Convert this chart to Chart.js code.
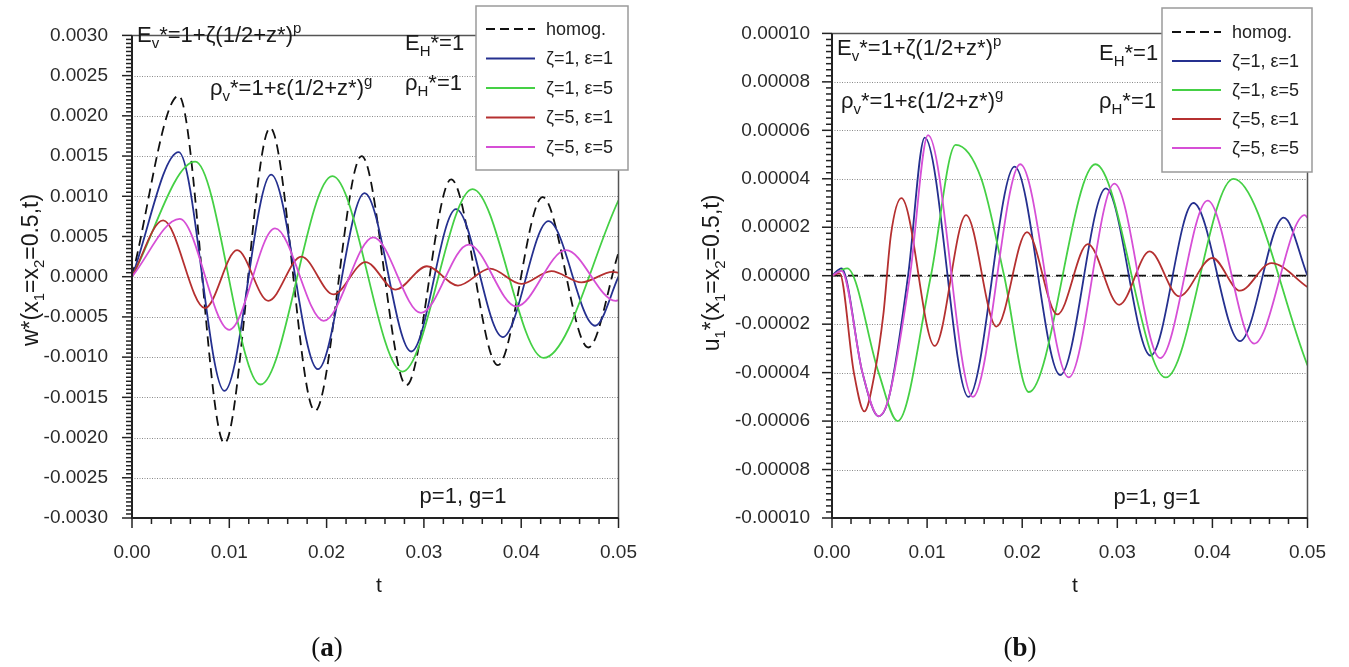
<!DOCTYPE html>
<html>
<head>
<meta charset="utf-8">
<title>w* and u1* time histories</title>
<script src="https://cdn.jsdelivr.net/npm/chart.js@4.4.1/dist/chart.umd.min.js"></script>
<style>
  body { margin: 0; background: #fff; width: 1349px; height: 667px; overflow: hidden; position: relative; }
  .panel { position: absolute; top: 0; height: 667px; }
  .cap { position: absolute; font-family: "Liberation Serif", "DejaVu Serif", serif; font-size: 27px; color: #111; transform: translateX(-50%); }
</style>
</head>
<body>
<div class="panel" style="left:0;width:660px"><canvas id="chartA"></canvas></div>
<div class="panel" style="left:680px;width:669px"><canvas id="chartB"></canvas></div>
<div class="cap" style="left:327px;top:632px">(<b>a</b>)</div>
<div class="cap" style="left:1020px;top:632px">(<b>b</b>)</div>
<script>
// legend labels, same for both panels
const SERIES_LABELS = ['homog.', 'ζ=1, ε=1', 'ζ=1, ε=5', 'ζ=5, ε=1', 'ζ=5, ε=5'];
const SERIES_COLORS = ['#111111', '#25308f', '#45d045', '#b53030', '#d64fd6'];

// (a) transverse displacement w*(x1=x2=0.5,t) -- peaks/valleys
const wHomogT = [0, 0.0048, 0.0095, 0.0142, 0.0188, 0.0236, 0.0282, 0.0328, 0.0376, 0.0422, 0.0469, 0.05];
const wHomogV = [0, 0.00225, -0.00207, 0.00185, -0.00167, 0.0015, -0.00135, 0.00121, -0.0011, 0.00099, -0.00088, 0.0003];
const wZ1E1T = [0, 0.0048, 0.0095, 0.0143, 0.0191, 0.0239, 0.0287, 0.0333, 0.0381, 0.0428, 0.0476, 0.05];
const wZ1E1V = [0, 0.00155, -0.00142, 0.00127, -0.00115, 0.00104, -0.00093, 0.00084, -0.00075, 0.00069, -0.00061, 0.0];
const wZ1E5T = [0, 0.0065, 0.0132, 0.0206, 0.0278, 0.035, 0.0423, 0.05];
const wZ1E5V = [0, 0.00143, -0.00134, 0.00125, -0.00118, 0.00109, -0.00101, 0.00095];
const wZ5E1T = [0, 0.0032, 0.0075, 0.0108, 0.014, 0.0174, 0.0207, 0.024, 0.0271, 0.0303, 0.0335, 0.0368, 0.04, 0.0431, 0.0462, 0.0494, 0.05];
const wZ5E1V = [0, 0.0007, -0.00039, 0.00033, -0.0003, 0.00025, -0.00022, 0.00018, -0.00016, 0.00013, -0.00011, 0.0001, -0.00009, 0.00007, -0.00007, 0.00006, 0.00005];
const wZ5E5T = [0, 0.0049, 0.01, 0.0147, 0.0197, 0.0248, 0.0297, 0.0346, 0.0395, 0.0446, 0.0497, 0.05];
const wZ5E5V = [0, 0.00072, -0.00066, 0.0006, -0.00055, 0.00049, -0.00045, 0.0004, -0.00037, 0.00033, -0.0003, -0.00029];

// (b) in-plane displacement u1*(x1=x2=0.5,t)
const uHomogT = [0, 0.05];
const uHomogV = [0, 0];
const uZ1E1T = [0, 0.001, 0.0032, 0.0049, 0.006, 0.008, 0.00975, 0.01435, 0.0192, 0.024, 0.0288, 0.0335, 0.038, 0.0429, 0.0475, 0.05];
const uZ1E1V = [0, 0.000003, -0.00004, -0.000058, -0.00005, 0, 0.000057, -0.00005, 0.000045, -0.000041, 0.000036, -0.000033, 0.00003, -0.000027, 0.000024, 0];
const uZ1E5T = [0, 0.0016, 0.0049, 0.0069, 0.0104, 0.013, 0.0157, 0.0181, 0.0207, 0.0277, 0.0351, 0.0422, 0.05];
const uZ1E5V = [0, 0.000003, -0.00004, -0.00006, 0, 0.000054, 0.00004, 0, -0.000048, 0.000046, -0.000042, 0.00004, -0.000037];
const uZ5E1T = [0, 0.0008, 0.0023, 0.0034, 0.0045, 0.0054, 0.0062, 0.0073, 0.0108, 0.0141, 0.0173, 0.0205, 0.0237, 0.0269, 0.0302, 0.0334, 0.0365, 0.04, 0.0429, 0.0462, 0.05];
const uZ5E1V = [0, 0.000001, -0.00004, -0.000056, -0.00004, -0.000016, 0.000017, 0.000032, -0.000029, 0.000025, -0.000021, 0.000018, -0.000016, 0.000013, -0.000012, 0.00001, -0.0000085, 0.0000073, -0.0000062, 0.0000052, -0.0000047];
const uZ5E5T = [0, 0.001, 0.0032, 0.0049, 0.006, 0.0082, 0.0101, 0.0148, 0.0198, 0.0249, 0.0297, 0.0345, 0.0395, 0.0444, 0.0497, 0.05];
const uZ5E5V = [0, 0.000002, -0.00004, -0.000058, -0.00005, 0, 0.000058, -0.00005, 0.000046, -0.000042, 0.000038, -0.000034, 0.000031, -0.000028, 0.000025, 0.000024];

const FONT = '"Liberation Sans", Arial, sans-serif';

function series(i, t, v) {
  return {
    label: SERIES_LABELS[i],
    data: t.map((x, k) => ({ x: x, y: v[k] })),
    borderColor: SERIES_COLORS[i],
    borderWidth: 1.8,
    borderDash: i === 0 ? [10, 6] : [],
    pointRadius: 0,
    fill: false,
    cubicInterpolationMode: 'monotone',
    order: i === 0 ? 5 : 5 - i
  };
}

// text runs: [text, 0 normal | 1 subscript | 2 superscript]
function richWidth(ctx, parts, size) {
  let w = 0;
  parts.forEach(p => {
    ctx.font = (p[1] ? Math.round(size * 0.66) : size) + 'px ' + FONT;
    w += ctx.measureText(p[0]).width;
  });
  return w;
}
function drawRich(ctx, parts, x, y, size, align) {
  let cx = align === 'center' ? x - richWidth(ctx, parts, size) / 2 : x;
  ctx.textAlign = 'left';
  ctx.textBaseline = 'alphabetic';
  parts.forEach(p => {
    ctx.font = (p[1] ? Math.round(size * 0.66) : size) + 'px ' + FONT;
    const dy = p[1] === 1 ? size * 0.28 : (p[1] === 2 ? -size * 0.42 : 0);
    ctx.fillText(p[0], cx, y + dy);
    cx += ctx.measureText(p[0]).width;
  });
}

// grid, frame, tick marks, annotations and the boxed legend
const decorPlugin = {
  id: 'decor',
  beforeDatasetsDraw(chart, args, opts) {
    const ctx = chart.ctx, a = chart.chartArea, ys = chart.scales.y;
    ctx.save();
    ctx.strokeStyle = '#8a8a8a';
    ctx.lineWidth = 1;
    ctx.setLineDash([1, 1.5]);
    ys.ticks.forEach(t => {
      if (t.value <= ys.min + 1e-12 || t.value >= ys.max - 1e-12) return;
      const py = Math.round(ys.getPixelForValue(t.value)) + 0.5;
      ctx.beginPath();
      ctx.moveTo(a.left, py);
      ctx.lineTo(a.right, py);
      ctx.stroke();
    });
    ctx.restore();
  },
  afterDatasetsDraw(chart, args, opts) {
    const ctx = chart.ctx, a = chart.chartArea, xs = chart.scales.x, ys = chart.scales.y;
    ctx.save();
    // frame
    ctx.strokeStyle = '#555';
    ctx.lineWidth = 1.5;
    ctx.beginPath();
    ctx.moveTo(a.left, a.top);
    ctx.lineTo(a.right, a.top);
    ctx.lineTo(a.right, a.bottom);
    ctx.stroke();
    ctx.strokeStyle = '#222';
    ctx.lineWidth = 2;
    ctx.beginPath();
    ctx.moveTo(a.left, a.top);
    ctx.lineTo(a.left, a.bottom);
    ctx.lineTo(a.right, a.bottom);
    ctx.stroke();
    // tick marks, pointing outwards
    ctx.lineWidth = 1.5;
    const nx = Math.round((xs.max - xs.min) / opts.minorX);
    for (let k = 0; k <= nx; k++) {
      const px = xs.getPixelForValue(xs.min + k * opts.minorX);
      const len = k % opts.perMajorX === 0 ? 10 : 6;
      ctx.beginPath();
      ctx.moveTo(px, a.bottom);
      ctx.lineTo(px, a.bottom + len);
      ctx.stroke();
    }
    const ny = Math.round((ys.max - ys.min) / opts.minorY);
    for (let k = 0; k <= ny; k++) {
      const py = ys.getPixelForValue(ys.min + k * opts.minorY);
      const len = k % opts.perMajorY === 0 ? 10 : 6;
      ctx.beginPath();
      ctx.moveTo(a.left, py);
      ctx.lineTo(a.left - len, py);
      ctx.stroke();
    }
    // annotations
    ctx.fillStyle = '#1a1a1a';
    opts.notes.forEach(n => drawRich(ctx, n.parts, n.x, n.y, n.size, n.align));
    // y axis title, rotated
    ctx.save();
    ctx.translate(opts.yTitle.x, opts.yTitle.y);
    ctx.rotate(-Math.PI / 2);
    drawRich(ctx, opts.yTitle.parts, 0, 0, opts.yTitle.size, 'center');
    ctx.restore();
    // x axis title
    drawRich(ctx, [['t', 0]], opts.xTitle.x, opts.xTitle.y, opts.xTitle.size, 'center');
    // legend box
    const L = opts.legend;
    ctx.fillStyle = '#fff';
    ctx.fillRect(L.left, L.top, L.width, L.height);
    ctx.strokeStyle = '#9a9a9a';
    ctx.lineWidth = 1.5;
    ctx.strokeRect(L.left, L.top, L.width, L.height);
    chart.data.datasets.forEach((ds, i) => {
      const ry = L.top + L.firstRow + i * L.rowGap;
      ctx.strokeStyle = ds.borderColor;
      ctx.lineWidth = 2;
      ctx.setLineDash(ds.borderDash.length ? [9, 5] : []);
      ctx.beginPath();
      ctx.moveTo(L.left + 10, ry);
      ctx.lineTo(L.left + 59, ry);
      ctx.stroke();
      ctx.setLineDash([]);
      ctx.fillStyle = '#222';
      ctx.font = L.size + 'px ' + FONT;
      ctx.textAlign = 'left';
      ctx.textBaseline = 'middle';
      ctx.fillText(ds.label, L.left + 70, ry + 1);
    });
    ctx.restore();
  }
};

function makeChart(id, sets, yMin, yMax, yStep, yDigits, yPadding, area, decor) {
  return new Chart(document.getElementById(id), {
    type: 'line',
    data: { datasets: sets },
    options: {
      responsive: true,
      maintainAspectRatio: false,
      animation: false,
      layout: { autoPadding: false, padding: { top: area.top, right: area.right, left: 0, bottom: 0 } },
      plugins: { legend: { display: false }, tooltip: { enabled: false }, decor: decor },
      scales: {
        x: {
          type: 'linear', min: 0, max: 0.05,
          grid: { display: false, drawTicks: false },
          border: { display: false },
          ticks: { stepSize: 0.01, padding: 23, color: '#2a2a2a', font: { family: FONT, size: 19 },
                   callback: v => v.toFixed(2), maxRotation: 0 },
          afterFit: s => { s.height = area.xHeight; }
        },
        y: {
          type: 'linear', min: yMin, max: yMax,
          grid: { display: false, drawTicks: false },
          border: { display: false },
          ticks: { stepSize: yStep, padding: yPadding, color: '#2a2a2a', font: { family: FONT, size: 19 },
                   callback: v => (Math.abs(v) < 1e-12 ? 0 : v).toFixed(yDigits) },
          afterFit: s => { s.width = area.yWidth; }
        }
      }
    },
    plugins: [decorPlugin]
  });
}

const eRow = [['E', 0], ['v', 1], ['*=1+ζ(1/2+z*)', 0], ['p', 2]];
const rRow = [['ρ', 0], ['v', 1], ['*=1+ε(1/2+z*)', 0], ['g', 2]];
const ehRow = [['E', 0], ['H', 1], ['*=1', 0]];
const rhRow = [['ρ', 0], ['H', 1], ['*=1', 0]];
const pgRow = [['p=1, g=1', 0]];

makeChart('chartA', [
  series(0, wHomogT, wHomogV),
  series(1, wZ1E1T, wZ1E1V),
  series(2, wZ1E5T, wZ1E5V),
  series(3, wZ5E1T, wZ5E1V),
  series(4, wZ5E5T, wZ5E5V)
], -0.003, 0.003, 0.0005, 4, 24, { top: 23, right: 32, xHeight: 149, yWidth: 132 }, {
  minorX: 0.002, perMajorX: 5, minorY: 0.00005, perMajorY: 10,
  notes: [
    { parts: eRow, x: 137, y: 42, size: 22 },
    { parts: ehRow, x: 405, y: 50, size: 22 },
    { parts: rRow, x: 210, y: 95, size: 22 },
    { parts: rhRow, x: 405, y: 90, size: 22 },
    { parts: pgRow, x: 463, y: 503, size: 22, align: 'center' }
  ],
  yTitle: { parts: [['w*(x', 0], ['1', 1], ['=x', 0], ['2', 1], ['=0.5,t)', 0]], x: 38, y: 270, size: 23 },
  xTitle: { x: 379, y: 592, size: 21 },
  legend: { left: 476, top: 6, width: 152, height: 164, firstRow: 23, rowGap: 29.5, size: 18 }
});

makeChart('chartB', [
  series(0, uHomogT, uHomogV),
  series(1, uZ1E1T, uZ1E1V),
  series(2, uZ1E5T, uZ1E5V),
  series(3, uZ5E1T, uZ5E1V),
  series(4, uZ5E5T, uZ5E5V)
], -0.0001, 0.0001, 0.00002, 5, 22, { top: 32, right: 31, xHeight: 149, yWidth: 152 }, {
  minorX: 0.002, perMajorX: 5, minorY: 0.0000025, perMajorY: 8,
  notes: [
    { parts: eRow, x: 157, y: 55, size: 22 },
    { parts: ehRow, x: 419, y: 60, size: 22 },
    { parts: rRow, x: 161, y: 108, size: 22 },
    { parts: rhRow, x: 419, y: 108, size: 22 },
    { parts: pgRow, x: 477, y: 504, size: 22, align: 'center' }
  ],
  yTitle: { parts: [['u', 0], ['1', 1], ['*(x', 0], ['1', 1], ['=x', 0], ['2', 1], ['=0.5,t)', 0]], x: 39, y: 273, size: 23 },
  xTitle: { x: 395, y: 592, size: 21 },
  legend: { left: 482, top: 8, width: 150, height: 164, firstRow: 24, rowGap: 29, size: 18 }
});
</script>
</body>
</html>
